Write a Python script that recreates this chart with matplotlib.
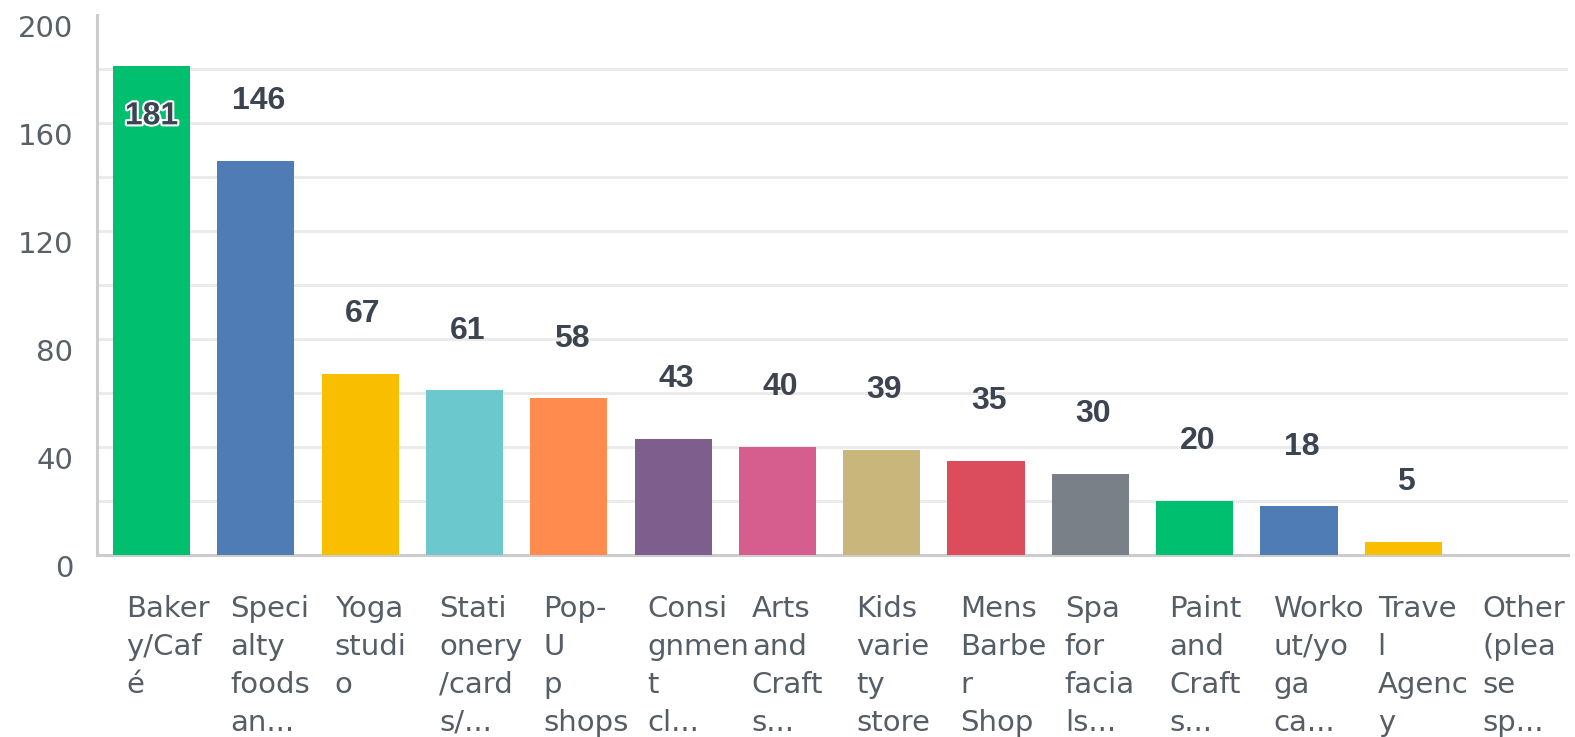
import numpy as np
import matplotlib
matplotlib.use("Agg")
import matplotlib.pyplot as plt
import matplotlib.transforms as mtransforms
import matplotlib.patheffects as pe

# data
categories = ["Baker\ny/Caf\né", "Speci\nalty\nfoods\nan...", "Yoga\nstudi\no",
              "Stati\nonery\n/card\ns/...", "Pop-\nU\np\nshops", "Consi\ngnmen\nt\ncl...",
              "Arts\nand\nCraft\ns...", "Kids\nvarie\nty\nstore", "Mens\nBarbe\nr\nShop",
              "Spa\nfor\nfacia\nls...", "Paint\nand\nCraft\ns...", "Worko\nut/yo\nga\nca...",
              "Trave\nl\nAgenc\ny", "Other\n(plea\nse\nsp..."]
counts = [181, 146, 67, 61, 58, 43, 40, 39, 35, 30, 20, 18, 5, 0]
colors = ["#00BF6F", "#507CB6", "#F9BE00", "#6BC8CD", "#FF8B4F", "#7D5E8D",
          "#D55E8E", "#C8B67A", "#DB4D5C", "#7A8088",
          "#00BF6F", "#507CB6", "#F9BE00", "#6BC8CD"]
yticks = [0, 40, 80, 120, 160, 200]
ygrid = [20, 40, 60, 80, 100, 120, 140, 160, 180]

fig = plt.figure(figsize=(15.75, 7.37), dpi=100)
ax = fig.add_axes([0.0616, 0.2469, 0.934, 0.7327])

x = np.arange(len(counts))
ax.bar(x, counts, width=0.74, color=colors, zorder=3)

# light horizontal grid
for g in ygrid:
    ax.axhline(g, color="#ebebeb", lw=2.2, zorder=1)

ax.set_xlim(-0.523, 13.58)
ax.set_ylim(0, 200)
ax.set_yticks(yticks)
ax.set_yticklabels([str(t) for t in yticks])
ax.tick_params(axis="y", length=0, pad=17, labelsize=21, labelcolor="#596068")
ax.set_xticks([])

# tick labels sit slightly below their grid lines
offset = mtransforms.ScaledTranslation(0, -11 / 100, fig.dpi_scale_trans)
for lab in ax.get_yticklabels():
    lab.set_transform(lab.get_transform() + offset)

for s in ["top", "right"]:
    ax.spines[s].set_visible(False)
ax.spines["left"].set_color("#cccccc")
ax.spines["left"].set_linewidth(2.2)
ax.spines["bottom"].set_color("#cccccc")
ax.spines["bottom"].set_linewidth(2.2)

# value labels
for xi, v in zip(x, counts):
    if v == 0:
        continue
    if v > 170:
        ax.annotate(str(v), (xi, v), xytext=(0, -36), textcoords="offset points",
                    ha="center", va="center", fontsize=23, fontweight="bold",
                    family="Liberation Sans", color="#3b4450", zorder=4,
                    path_effects=[pe.withStroke(linewidth=3, foreground="white")])
    else:
        ax.annotate(str(v), (xi, v), xytext=(2, 43), textcoords="offset points",
                    ha="center", va="center", fontsize=23, fontweight="bold",
                    family="Liberation Sans", color="#3b4450", zorder=4)

# wrapped category labels
trans = mtransforms.blended_transform_factory(ax.transData, ax.transAxes)
for xi, lab in zip(x, categories):
    ax.text(xi - 0.245, -0.074, lab, transform=trans, ha="left", va="top",
            fontsize=21, color="#555d66", linespacing=1.45)

plt.savefig("out.png", dpi=100)
